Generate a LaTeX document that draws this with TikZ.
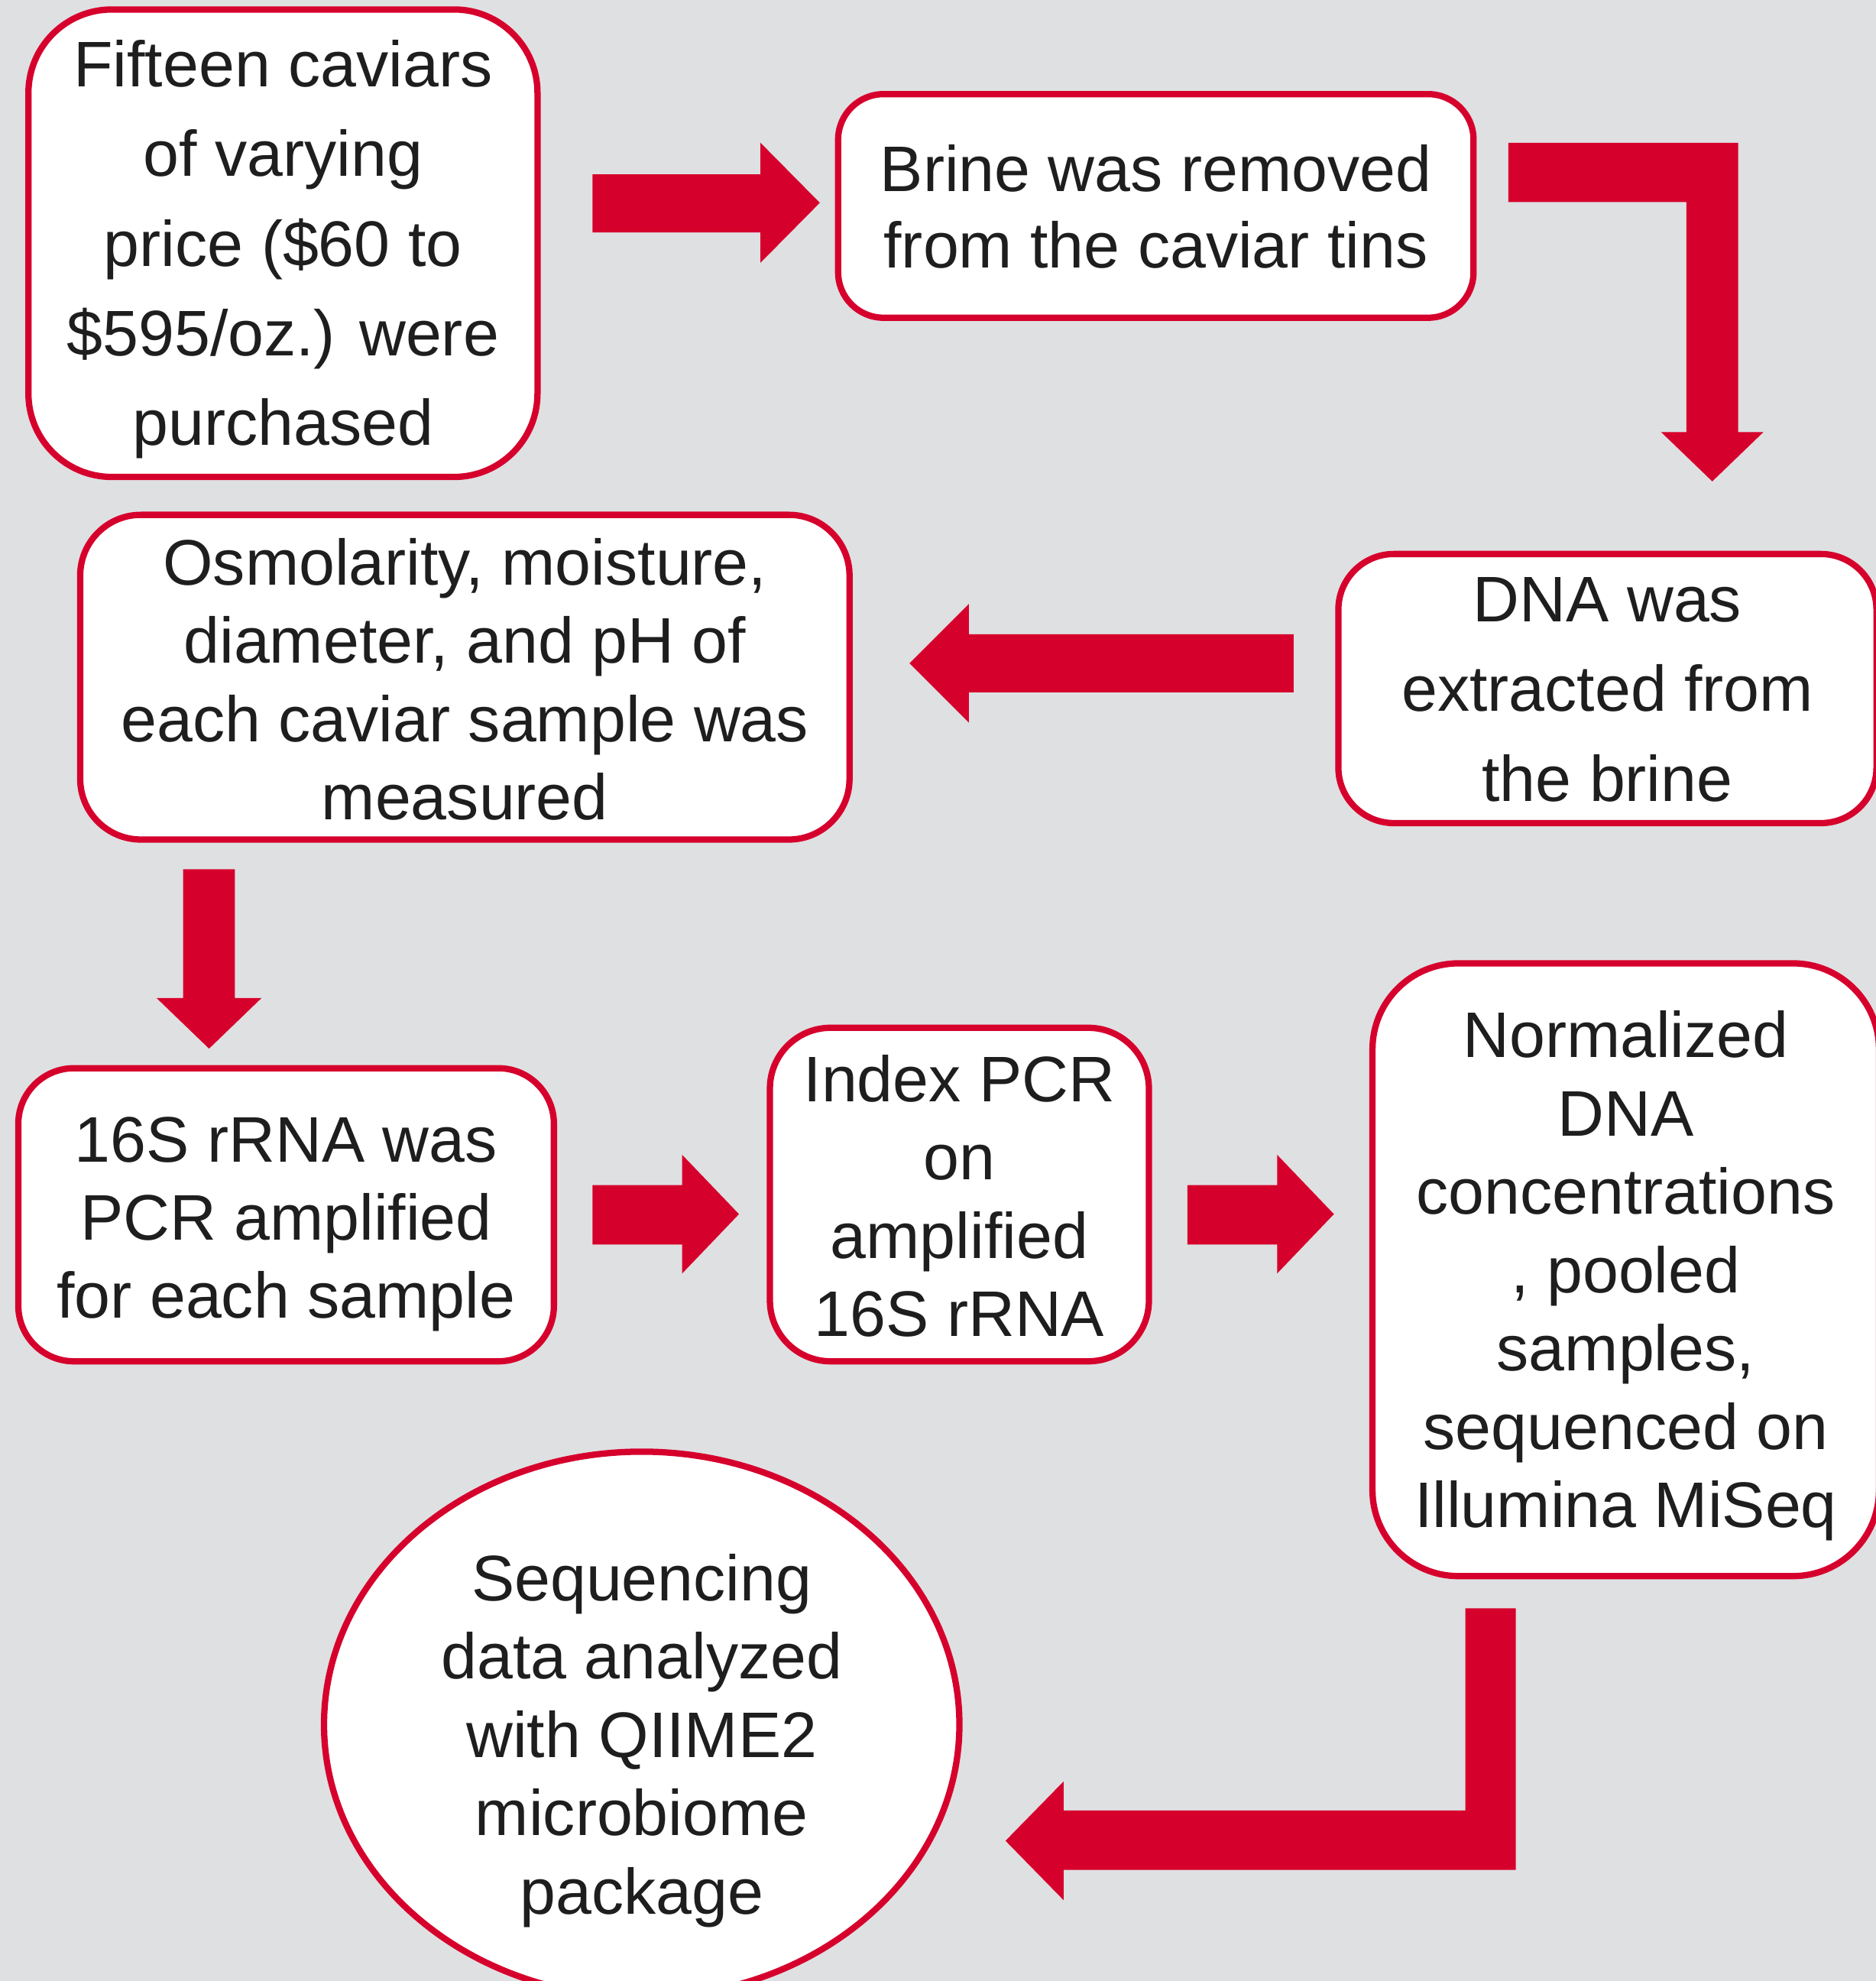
\documentclass[tikz,border=0pt]{standalone}
\usepackage{fontspec}
\setmainfont{Liberation Sans}
\usetikzlibrary{shapes.geometric}
\definecolor{bg}{HTML}{DFE0E2}
\definecolor{crim}{HTML}{D6002C}
\definecolor{ink}{HTML}{1E1E1E}
\begin{document}
\begin{tikzpicture}[x=1pt,y=-1pt,
  stepbox/.style={draw=crim, fill=white, line width=5pt, rectangle, inner sep=0pt,
    align=center, text=ink, font=\fontsize{51}{62}\selectfont, text depth=0pt},
  blockarrow/.style={fill=crim, draw=none}]
\fill[bg] (0,0) rectangle (1485,1568);
\useasboundingbox (0,0) rectangle (1485,1568);
\clip (0,0) rectangle (1485,1568);

% boxes
\node[stepbox, rounded corners=66pt, minimum width=403pt, minimum height=370pt,
  text height=320.2pt, font=\fontsize{51}{71}\selectfont] (n1) at (224,192.5)
  {Fifteen caviars\\of varying\\price (\$60 to\\\$595/oz.) were\\purchased};
\node[stepbox, rounded corners=36pt, minimum width=503pt, minimum height=177pt,
  text height=98.6pt, font=\fontsize{51}{61}\selectfont] (n2) at (915,163)
  {Brine was removed\\from the caviar tins};
\node[stepbox, rounded corners=44pt, minimum width=426pt, minimum height=213pt,
  text height=178pt, font=\fontsize{51}{71}\selectfont] (n3) at (1272.5,545)
  {DNA was\\extracted from\\the brine};
\node[stepbox, rounded corners=48pt, minimum width=609pt, minimum height=257pt,
  text height=226pt] (n4) at (368,536)
  {Osmolarity, moisture,\\diameter, and pH of\\each caviar sample was\\measured};
\node[stepbox, rounded corners=44pt, minimum width=424pt, minimum height=232pt,
  text height=163pt, font=\fontsize{51}{61.5}\selectfont] (n5) at (226.5,961.5)
  {16S rRNA was\\PCR amplified\\for each sample};
\node[stepbox, rounded corners=48pt, minimum width=300pt, minimum height=264pt,
  text height=225pt] (n6) at (759.5,945.5)
  {Index PCR\\on\\amplified\\16S rRNA};
\node[stepbox, rounded corners=68pt, minimum width=401pt, minimum height=485pt,
  text height=408pt] (n7) at (1287,1005)
  {Normalized\\DNA\\concentrations\\, pooled\\samples,\\sequenced on\\Illumina MiSeq};
\node[stepbox, ellipse, minimum width=503pt, minimum height=432pt,
  text height=300pt] (n8) at (508,1365)
  {Sequencing\\data analyzed\\with QIIME2\\microbiome\\package};

% block arrows
\fill[blockarrow] (469,138) -- (602,138) -- (602,113) -- (649,160.5) -- (602,208)
  -- (602,184) -- (469,184) -- cycle;
\fill[blockarrow] (1194,113) -- (1376,113) -- (1376,342) -- (1396,342) -- (1355.5,381)
  -- (1315,342) -- (1335,342) -- (1335,160) -- (1194,160) -- cycle;
\fill[blockarrow] (1024,502) -- (767,502) -- (767,478) -- (720,525) -- (767,572)
  -- (767,548) -- (1024,548) -- cycle;
\fill[blockarrow] (145,688) -- (186,688) -- (186,790) -- (207,790) -- (165.5,830)
  -- (124,790) -- (145,790) -- cycle;
\fill[blockarrow] (469,938) -- (540,938) -- (540,914) -- (585,961) -- (540,1008)
  -- (540,985) -- (469,985) -- cycle;
\fill[blockarrow] (940,938) -- (1011,938) -- (1011,914) -- (1056,961) -- (1011,1008)
  -- (1011,985) -- (940,985) -- cycle;
\fill[blockarrow] (1160,1273) -- (1200,1273) -- (1200,1480) -- (842,1480) -- (842,1504)
  -- (796,1457) -- (842,1410) -- (842,1433) -- (1160,1433) -- cycle;
\end{tikzpicture}
\end{document}
